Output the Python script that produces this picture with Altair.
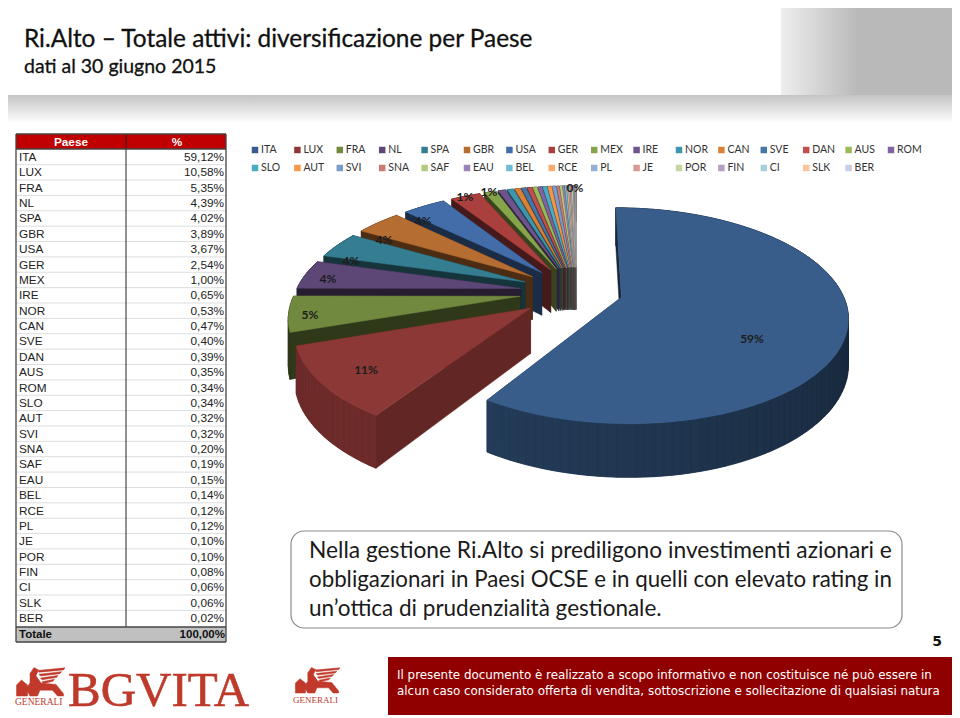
import math
import altair as alt
import pandas as pd

# ---- data ----
PAESI = ["ITA","LUX","FRA","NL","SPA","GBR","USA","GER","MEX","IRE","NOR","CAN","SVE","DAN","AUS","ROM",
         "SLO","AUT","SVI","SNA","SAF","EAU","BEL","RCE","PL","JE","POR","FIN","CI","SLK","BER"]
QUOTE = [59.12,10.58,5.35,4.39,4.02,3.89,3.67,2.54,1.00,0.65,0.53,0.47,0.40,0.39,0.35,0.34,
         0.34,0.32,0.32,0.20,0.19,0.15,0.14,0.12,0.12,0.10,0.10,0.08,0.06,0.06,0.02]
COLORI = ["#385D8A","#8C3836","#71893F","#5C4776","#357D91","#B66D31","#426DA9","#A9403E","#86A44A","#6E548D",
          "#3D96AE","#DA8137","#4675A8","#C0504D","#9BBB59","#8064A2","#4BACC6","#F79646","#7C9CCA","#CC7B79",
          "#B1CA7C","#9A82B6","#6FBDD2","#F9AB6B","#97B0D6","#D89996","#C5D6A0","#B0A1C4","#A7CEDC","#F6C5A0","#C6CFE3"]
ETICHETTE = [("59%",752,339),("11%",366,370),("5%",310,315),("4%",328,279),("4%",351,261),
             ("4%",384,240),("4%",423,221),("1%",465,197),("1%",489,192),("0%",575,188)]
NOTA = ["Nella gestione Ri.Alto si prediligono investimenti azionari e",
        "obbligazionari in Paesi OCSE e in quelli con elevato rating in",
        "un’ottica di prudenzialità gestionale."]
PIE_PAGINA = ["Il presente documento è realizzato a scopo informativo e non costituisce né può essere in",
              "alcun caso considerato offerta di vendita, sottoscrizione e sollecitazione di qualsiasi natura"]

SX = alt.Scale(domain=[8, 952], zero=False, nice=False)
SY = alt.Scale(domain=[718, 8], zero=False, nice=False)
X = alt.X("x:Q", scale=SX, axis=None)
Y = alt.Y("y:Q", scale=SY, axis=None)

def box(x, x2, y, y2, **mark):
    d = pd.DataFrame({"x":[x],"x2":[x2],"y":[y],"y2":[y2]})
    return alt.Chart(d).mark_rect(**mark).encode(x=X, x2="x2", y=Y, y2="y2")

def rules(rows, **mark):
    d = pd.DataFrame(rows, columns=["x","x2","y","y2"])
    return alt.Chart(d).mark_rule(**mark).encode(x=X, x2="x2", y=Y, y2="y2")

def txt(rows, **mark):
    d = pd.DataFrame(rows, columns=["t","x","y"])
    return alt.Chart(d).mark_text(**mark).encode(x=X, y=Y, text="t:N")

def shade(col, f):
    r, g, b = [int(col[i:i+2], 16) for i in (1, 3, 5)]
    return "#%02x%02x%02x" % (int(r*f), int(g*f), int(b*f))

# ---- exploded perspective pie, built from the shares ----
CX, CY, RX, RY, PERSP, DEPTH = 576, 292, 225, 103, 0.17, 44

def project(a, am, e, r=1.0, low=False, big=False):
    u = e*math.sin(am) + r*math.sin(a)
    v = e*math.cos(am) + r*math.cos(a)
    s = 1/(1 + PERSP*v)
    x = CX + RX*u*s
    if big:
        x = CX + 7 + 0.98*RX*u*s
    return [x, CY - RY*v*s + (DEPTH*s if low else 0)], v

def feature(coords, col):
    ring = coords + [coords[0]]
    return {"type":"Feature","properties":{"hex":col},"geometry":{"type":"Polygon","coordinates":[ring]}}

def slice_features(i, a0, a1):
    col = COLORI[i]
    am = (a0 + a1)/2
    big = i == 0
    e = 0.18 if big else 0.25
    n = max(2, int((a1 - a0)/math.radians(2)))
    angles = [a0 + (a1 - a0)*k/n for k in range(n + 1)]
    apex_t, vap = project(0, am, e, 0.0, big=big)
    apex_b, _ = project(0, am, e, 0.0, True, big=big)
    quads = []
    rf = 0.7 if i == 1 else 0.42
    for a in (a0, a1):
        t, vt = project(a, am, e, big=big)
        b, _ = project(a, am, e, 1.0, True, big=big)
        quads.append(((vap + vt)/2, [apex_t, t, b, apex_b], shade(col, rf)))
    for k in range(n):
        t0, v0 = project(angles[k], am, e, big=big)
        t1, v1 = project(angles[k+1], am, e, big=big)
        b0, _ = project(angles[k], am, e, 1.0, True, big=big)
        b1, _ = project(angles[k+1], am, e, 1.0, True, big=big)
        if i == 0:
            f = 0.42 + 0.23*max(0.0, (math.degrees(angles[k]) - 90)/122)
        elif i == 1:
            f = 0.78
        else:
            f = 0.42
        quads.append(((v0 + v1)/2, [t0, t1, b1, b0], shade(col, f)))
    quads.sort(key=lambda q: -q[0])
    top = [project(a, am, e, big=big)[0] for a in angles]
    low = [project(a, am, e, 1.0, True, big=big)[0] for a in angles]
    out = [feature(top + low[::-1], shade(col, 0.5 if i == 0 else (0.78 if i == 1 else 0.42)))]
    out += [feature(q[1], q[2]) for q in quads]
    out.append(feature([apex_t] + top, col))
    return out

tot = sum(QUOTE)
limiti = [0.0]
for q in QUOTE:
    limiti.append(limiti[-1] + q/tot*2*math.pi)
feats = []
for i in range(len(QUOTE) - 1, 0, -1):
    feats += slice_features(i, limiti[i], limiti[i+1])
feats = slice_features(0, limiti[0], limiti[1]) + feats

# rough winged-lion emblem
def emblem(x0, y0, w, h):
    c = "#C0392B"
    out = []
    def P(pts):
        out.append(feature([[x0 + w*p[0], y0 + h*p[1]] for p in pts], c))
    P([(0.03,1),(0.03,0.62),(0.13,0.45),(0.25,0.62),(0.25,1)])
    P([(0.22,0.75),(0.30,0.55),(0.30,0.22),(0.38,0.02),(0.47,0.1),(0.42,0.3),(0.52,0.55),(0.82,0.6),(0.97,0.92),(0.97,1),(0.85,1),(0.75,0.8),(0.5,0.8),(0.45,1),(0.3,1)])
    for k in range(4):
        yy = 0.03 + k*0.13
        P([(0.45+k*0.03,yy+0.09),(1.0-k*0.07,yy),(0.97-k*0.07,yy+0.07),(0.48+k*0.03,yy+0.15)])
    return out
feats += emblem(15, 667, 50, 29) + emblem(294, 667, 46, 26)

pie = alt.Chart(alt.Data(values=feats)).mark_geoshape(strokeWidth=0.5).encode(
    fill=alt.Fill("properties.hex:N", scale=None),
    stroke=alt.Stroke("properties.hex:N", scale=None),
).project(type="identity", scale=1, translate=[-8, -8])

# ---- header ----
head = alt.layer(
    box(781, 952, 8, 95, color=alt.Gradient(gradient="linear", x1=0, x2=1, y1=0, y2=0,
        stops=[alt.GradientStop(color="#eeeeee", offset=0), alt.GradientStop(color="#b9b9b9", offset=0.45),
               alt.GradientStop(color="#b9b9b9", offset=1)])),
    box(8, 952, 95, 123, color=alt.Gradient(gradient="linear", x1=0, x2=0, y1=0, y2=1,
        stops=[alt.GradientStop(color="#c4c4c4", offset=0), alt.GradientStop(color="#ffffff", offset=1)])),
    txt([("Ri.Alto  – Totale attivi: diversificazione per Paese", 24, 40)], font="Lato", fontSize=24.4,
        align="left", baseline="middle", color="#111111", stroke="#111111", strokeWidth=0.3),
    txt([("dati al 30 giugno 2015", 24, 67)], font="Lato", fontSize=19.5,
        align="left", baseline="middle", color="#111111", stroke="#111111", strokeWidth=0.3),
)

# ---- table ----
TOP, STEP = 157, 15.37
rows = pd.DataFrame({"paese":PAESI, "quota":["%.2f%%" % q for q in QUOTE]})
rows["quota"] = rows["quota"].str.replace(".", ",")
rows["y"] = [TOP + STEP*i for i in range(len(PAESI))]
rows["xl"] = 19
rows["xr"] = 224
sep = [(16, 226, TOP + STEP*(i + 0.5), TOP + STEP*(i + 0.5)) for i in range(len(PAESI) - 1)]
font_t = "Liberation Sans"
table = alt.layer(
    box(16, 226, 134, 149, color="#C00000"),
    box(16, 226, 627, 642, color="#C0C0C0"),
    rules(sep, color="#DDDDDD", strokeWidth=1),
    rules([(126, 126, 134, 627)], color="#222222", strokeWidth=1),
    rules([(16,226,134,134),(16,226,149,149),(16,226,627,627),(16,226,642,642),(16,16,134,642),(226,226,134,642)],
          color="#444444", strokeWidth=1.3),
    alt.Chart(rows).mark_text(font=font_t, fontSize=11.8, align="left", baseline="middle", color="#222222").encode(
        x=alt.X("xl:Q", scale=SX, axis=None), y=Y, text="paese:N"),
    alt.Chart(rows).mark_text(font=font_t, fontSize=11.8, align="right", baseline="middle", color="#222222").encode(
        x=alt.X("xr:Q", scale=SX, axis=None), y=Y, text="quota:N"),
    txt([("Paese", 71, 142), ("%", 177, 142)], font=font_t, fontSize=11.8, fontWeight="bold", align="center",
        baseline="middle", color="#FFFFFF"),
    txt([("Totale", 19, 635)], font=font_t, fontSize=11.5, fontWeight="bold", align="left", baseline="middle", color="#111111"),
    txt([("100,00%", 225, 635)], font=font_t, fontSize=11.5, fontWeight="bold", align="right", baseline="middle", color="#111111"),
)

# ---- legend ----
leg = pd.DataFrame({"paese":PAESI, "col":COLORI})
leg["x"] = [255 + 42.4*(i % 16) for i in range(len(PAESI))]
leg["lx"] = leg["x"] + 6
leg["y"] = [150 + 18*(i//16) for i in range(len(PAESI))]
legend = alt.layer(
    alt.Chart(leg).mark_square(size=42, opacity=1).encode(x=X, y=Y, color=alt.Color("col:N", scale=None)),
    alt.Chart(leg).mark_text(font="Lato", fontSize=10.5, align="left", baseline="middle", color="#333333").encode(
        x=alt.X("lx:Q", scale=SX, axis=None), y=Y, text="paese:N"),
)

labels = txt(ETICHETTE, font="Lato", fontSize=12, fontWeight="bold", align="center", baseline="middle", color="#1c1c1c")

# ---- note, footer ----
stile_nota = dict(font="Lato", align="left", baseline="middle", color="#1a1a1a")
nota = alt.layer(
    box(291, 902, 531, 628, fill="#FFFFFF", stroke="#8C8C8C", strokeWidth=1.2, cornerRadius=13),
    txt([(NOTA[0], 309, 551)], fontSize=22.75, **stile_nota),
    txt([(NOTA[1], 309, 580)], fontSize=22.3, **stile_nota),
    txt([(NOTA[2], 309, 609)], fontSize=22.5, **stile_nota),
)
foot = alt.layer(
    box(388, 952, 657, 715, color="#900000"),
    txt([(PIE_PAGINA[0], 397, 675), (PIE_PAGINA[1], 397, 691)], font="DejaVu Sans", fontSize=11.9,
        align="left", baseline="middle", color="#FFFFFF"),
    txt([("5", 937, 642)], font="DejaVu Sans", fontSize=14, fontWeight="bold", align="center", baseline="middle", color="#111111"),
    txt([("BGVITA", 68, 706)], font="Liberation Serif", fontSize=49, align="left", baseline="alphabetic", color="#BE3A2B",
        stroke="#BE3A2B", strokeWidth=0.6),
    txt([("GENERALI", 15, 702)], font="Liberation Serif", fontSize=9.5, align="left", baseline="middle", color="#BE3A2B"),
    txt([("GENERALI", 293, 700)], font="Liberation Serif", fontSize=9, align="left", baseline="middle", color="#BE3A2B"),
)

chart = alt.layer(head, table, legend, pie, labels, nota, foot).properties(
    width=944, height=710, padding=0, autosize=alt.AutoSizeParams(type="none"),
).configure_view(stroke=None)

chart.save("out.html", embed_options={"renderer": "svg", "actions": False})
